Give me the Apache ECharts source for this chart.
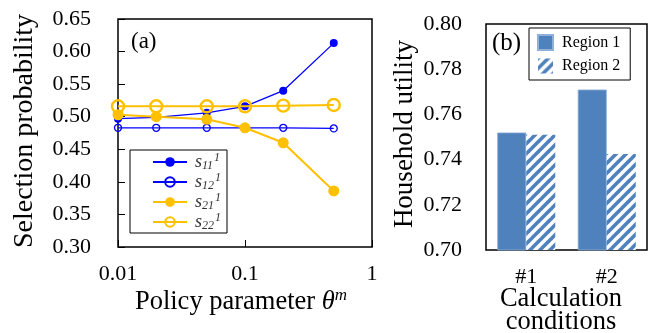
<!DOCTYPE html>
<html>
<head>
<meta charset="utf-8">
<script src="https://cdn.jsdelivr.net/npm/echarts@6/dist/echarts.min.js"></script>
<style>
html,body{margin:0;padding:0;background:#fff;}
#chart{width:654px;height:333px;}
</style>
</head>
<body>
<div id="chart"></div>
<script>
// ---- Data ----
var thetas = [0.01, 0.02, 0.05, 0.1, 0.2, 0.5];
var s11 = [0.497, 0.499, 0.506, 0.516, 0.540, 0.613];
var s12 = [0.483, 0.483, 0.483, 0.483, 0.483, 0.482];
var s21 = [0.503, 0.500, 0.496, 0.483, 0.460, 0.386];
var s22 = [0.516, 0.516, 0.516, 0.516, 0.517, 0.518];
var xTickLabels = ['0.01', '0.1', '1'];

var conditions = ['#1', '#2'];
var region1 = [0.752, 0.771];
var region2 = [0.751, 0.7425];

var FONT = 'Liberation Serif';
var BLUE = '#0000ff';
var ORANGE = '#ffc000';
var RBLUE = '#4f81bd';

function pairs(xs, ys) { return xs.map(function (x, i) { return [x, ys[i]]; }); }

// stripe pattern
var pc = document.createElement('canvas');
pc.width = 10; pc.height = 10;
var g = pc.getContext('2d');
g.fillStyle = '#ffffff'; g.fillRect(0, 0, 10, 10);
g.strokeStyle = RBLUE; g.lineWidth = 3.6;
[[-10, 10, 10, -10], [0, 10, 10, 0], [0, 20, 20, 0]].forEach(function (l) {
  g.beginPath(); g.moveTo(l[0], l[1]); g.lineTo(l[2], l[3]); g.stroke();
});
var stripe = { image: pc, repeat: 'repeat' };

var legendRich = {
  s: { fontFamily: FONT, fontStyle: 'italic', fontSize: 18, color: '#333', lineHeight: 20, verticalAlign: 'middle', padding: [0, 0, 0, 3] },
  sub: { fontFamily: FONT, fontStyle: 'italic', fontSize: 12, color: '#333', lineHeight: 20, verticalAlign: 'bottom', padding: [7, 0, 0, 0] },
  sup: { fontFamily: FONT, fontStyle: 'italic', fontSize: 12, color: '#333', lineHeight: 20, verticalAlign: 'top', padding: [0, 0, 7, 1] }
};
var legendNames = { s11: ['11', '1'], s12: ['12', '1'], s21: ['21', '1'], s22: ['22', '1'] };

var chart = echarts.init(document.getElementById('chart'), null, { renderer: 'canvas' });
var option = {
  animation: false,
  backgroundColor: '#fff',
  grid: [
    { left: 118, top: 19, width: 254, height: 228, show: true, borderColor: '#000', borderWidth: 1.5, backgroundColor: 'transparent' },
    { left: 486, top: 24, width: 161, height: 226, show: true, borderColor: '#000', borderWidth: 1.5, backgroundColor: 'transparent' }
  ],
  xAxis: [
    {
      gridIndex: 0, type: 'log', logBase: 10, min: 0.01, max: 1,
      axisLine: { show: false },
      axisTick: { show: true, inside: true, length: 7, lineStyle: { color: '#000', width: 1 } },
      minorTick: { show: false },
      splitLine: { show: false },
      axisLabel: {
        fontFamily: FONT, fontSize: 22, color: '#000', margin: 16,
        formatter: function (v) {
          var s = String(+v.toPrecision(6));
          return xTickLabels.indexOf(s) >= 0 ? s : '';
        }
      }
    },
    {
      gridIndex: 1, type: 'category', data: conditions,
      axisLine: { show: false }, axisTick: { show: false },
      axisLabel: { fontFamily: FONT, fontSize: 22, color: '#000', margin: 16 }
    }
  ],
  yAxis: [
    {
      gridIndex: 0, type: 'value', min: 0.30, max: 0.65, interval: 0.05,
      axisLine: { show: false },
      axisTick: { show: true, inside: true, length: 7, lineStyle: { color: '#000', width: 1 } },
      splitLine: { show: false },
      axisLabel: { fontFamily: FONT, fontSize: 22, color: '#000', margin: 27, formatter: function (v) { return v.toFixed(2); } }
    },
    {
      gridIndex: 1, type: 'value', min: 0.70, max: 0.80, interval: 0.02,
      axisLine: { show: false }, axisTick: { show: false }, splitLine: { show: false },
      axisLabel: { fontFamily: FONT, fontSize: 22, color: '#000', margin: 24, formatter: function (v) { return v.toFixed(2); } }
    }
  ],
  legend: [
    {
      data: ['s11', 's12', 's21', 's22'],
      orient: 'vertical', left: 130, top: 150,
      width: 97,
      borderColor: '#000', borderWidth: 1, backgroundColor: '#fff',
      padding: [2, 6, 1, 22], itemGap: 0, itemWidth: 34, itemHeight: 12,
      textStyle: { rich: legendRich },
      formatter: function (n) { var p = legendNames[n]; return '{s|s}{sub|' + p[0] + '}{sup|' + p[1] + '}'; }
    },
    {
      data: ['Region 1', 'Region 2'],
      orient: 'vertical', left: 529, top: 28,
      icon: 'rect',
      borderColor: '#000', borderWidth: 1, backgroundColor: '#fff',
      padding: [6, 10, 6, 8], itemGap: 7, itemWidth: 15, itemHeight: 15,
      textStyle: { fontFamily: FONT, fontSize: 16, color: '#000', padding: [0, 0, 0, 4] }
    }
  ],
  graphic: [
    { type: 'text', left: 131, top: 30, style: { text: '(a)', fontFamily: FONT, fontSize: 23, fill: '#000' } },
    { type: 'text', left: 492, top: 31, style: { text: '(b)', fontFamily: FONT, fontSize: 25, fill: '#000' } },
    { type: 'text', x: 25, y: 131, rotation: Math.PI / 2, style: { text: 'Selection probability', fontFamily: FONT, fontSize: 28, fill: '#000', align: 'center', verticalAlign: 'middle' } },
    { type: 'text', x: 405, y: 134, rotation: Math.PI / 2, style: { text: 'Household utility', fontFamily: FONT, fontSize: 27, fill: '#000', align: 'center', verticalAlign: 'middle' } },
    {
      type: 'text', x: 241, y: 302,
      style: {
        text: '{n|Policy parameter }{i|θ}{m|m}', align: 'center', verticalAlign: 'middle',
        rich: {
          n: { fontFamily: FONT, fontSize: 26.5, fill: '#000', lineHeight: 30, verticalAlign: 'middle' },
          i: { fontFamily: FONT, fontStyle: 'italic', fontSize: 26.5, fill: '#000', lineHeight: 30, verticalAlign: 'middle' },
          m: { fontFamily: FONT, fontStyle: 'italic', fontSize: 17, fill: '#000', lineHeight: 30, verticalAlign: 'top' }
        }
      }
    },
    { type: 'text', x: 561, y: 311, style: { text: 'Calculation\nconditions', fontFamily: FONT, fontSize: 26.5, lineHeight: 23, fill: '#000', align: 'center', verticalAlign: 'middle' } }
  ],
  series: [
    {
      name: 's11', type: 'line', xAxisIndex: 0, yAxisIndex: 0, data: pairs(thetas, s11),
      symbol: 'circle', symbolSize: 8, z: 2,
      lineStyle: { color: BLUE, width: 1.3 }, itemStyle: { color: BLUE }
    },
    {
      name: 's12', type: 'line', xAxisIndex: 0, yAxisIndex: 0, data: pairs(thetas, s12),
      symbol: 'circle', symbolSize: 7, z: 2,
      lineStyle: { color: BLUE, width: 1.3 }, itemStyle: { color: 'rgba(255,255,255,0)', borderColor: BLUE, borderWidth: 1.3 }
    },
    {
      name: 's21', type: 'line', xAxisIndex: 0, yAxisIndex: 0, data: pairs(thetas, s21),
      symbol: 'circle', symbolSize: 11, z: 3,
      lineStyle: { color: ORANGE, width: 2 }, itemStyle: { color: ORANGE }
    },
    {
      name: 's22', type: 'line', xAxisIndex: 0, yAxisIndex: 0, data: pairs(thetas, s22),
      symbol: 'circle', symbolSize: 12, z: 4,
      lineStyle: { color: ORANGE, width: 2 }, itemStyle: { color: 'rgba(255,255,255,0)', borderColor: ORANGE, borderWidth: 2.4 }
    },
    {
      name: 'Region 1', type: 'bar', xAxisIndex: 1, yAxisIndex: 1, data: region1,
      barWidth: 29, barGap: '0%',
      itemStyle: { color: RBLUE, borderColor: '#8fb0d8', borderWidth: 0.8 }
    },
    {
      name: 'Region 2', type: 'bar', xAxisIndex: 1, yAxisIndex: 1, data: region2,
      barWidth: 29, barGap: '0%',
      itemStyle: { color: stripe }
    }
  ]
};
chart.setOption(option);
</script>
</body>
</html>
